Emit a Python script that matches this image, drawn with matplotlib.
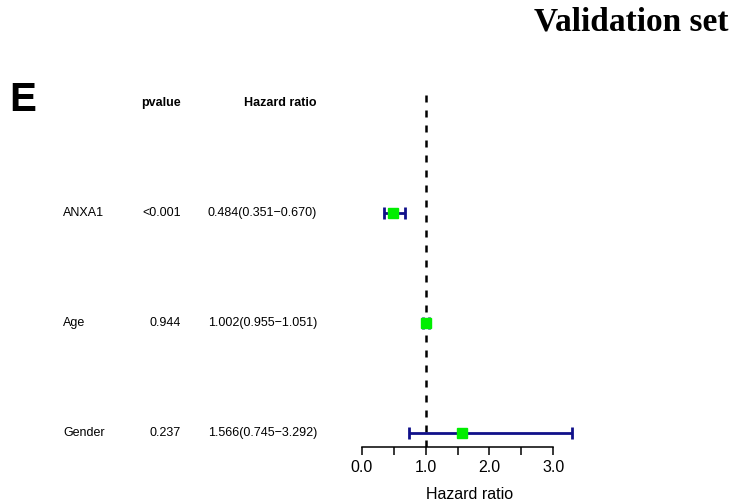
import matplotlib.pyplot as plt
import matplotlib.transforms as mtransforms

plt.rcParams['font.family'] = ['Liberation Sans', 'DejaVu Sans']

# Cox regression results
variables = ['ANXA1', 'Age', 'Gender']
pvalues = ['<0.001', '0.944', '0.237']
hr = [0.484, 1.002, 1.566]
hr_low = [0.351, 0.955, 0.745]
hr_high = [0.670, 1.051, 3.292]
hr_text = ['0.484(0.351\u22120.670)', '1.002(0.955\u22121.051)', '1.566(0.745\u22123.292)']
xticks = [0, 0.5, 1, 1.5, 2, 2.5, 3]
xticklabels = ['0.0', '', '1.0', '', '2.0', '', '3.0']

W, H = 731, 501
fig = plt.figure(figsize=(W / 100, H / 100), dpi=100)
ax = fig.add_axes([340 / W, 1 - 447 / H, 260 / W, (447 - 95) / H])

ypos = [3, 2, 1]
for y, m, lo, hi in zip(ypos, hr, hr_low, hr_high):
    ax.errorbar(m, y, xerr=[[m - lo], [hi - m]], fmt='none', ecolor='#10108a',
                elinewidth=2, capsize=4.5, capthick=2, zorder=2)
    ax.plot(m, y, marker='s', color='#00ee00', markersize=7.5, linestyle='none', zorder=3)

ax.axvline(1, color='black', linestyle=(0, (2.8, 3.2)), linewidth=1.8, zorder=1)

ax.set_xlim(-0.345, 3.736)
ax.set_ylim(0.873, 4.073)
for s in ['top', 'right', 'left']:
    ax.spines[s].set_visible(False)
ax.spines['bottom'].set_bounds(0, 3)
ax.spines['bottom'].set_linewidth(1.1)
ax.set_yticks([])
ax.set_xticks(xticks)
ax.set_xticklabels(xticklabels, fontsize=11.5)
ax.tick_params(axis='x', direction='out', length=6, width=1.1, pad=3)
ax.set_xlabel('Hazard ratio', fontsize=11.5, labelpad=9)

# Table columns to the left of the plot
trans = mtransforms.blended_transform_factory(fig.transFigure, ax.transData)
head_font = ['Liberation Sans Narrow', 'Liberation Sans']
fig.text(181 / W, 4, 'pvalue', transform=trans, ha='right', va='center',
         fontsize=9, fontweight='bold', family=head_font)
fig.text(317 / W, 4, 'Hazard ratio', transform=trans, ha='right', va='center',
         fontsize=9, fontweight='bold', family=head_font)
for y, name, p, t in zip(ypos, variables, pvalues, hr_text):
    fig.text(63 / W, y, name, transform=trans, ha='left', va='center', fontsize=9)
    fig.text(181 / W, y, p, transform=trans, ha='right', va='center', fontsize=9)
    fig.text(317 / W, y, t, transform=trans, ha='right', va='center', fontsize=9)

fig.text(9 / W, 1 - 100 / H, 'E', ha='left', va='center', fontsize=29, fontweight='bold')
fig.text(729 / W, 1 - 22 / H, 'Validation set', ha='right', va='center',
         fontsize=24, fontweight='bold', family=['Liberation Serif', 'DejaVu Serif'])

fig.savefig('out.png', dpi=100)
